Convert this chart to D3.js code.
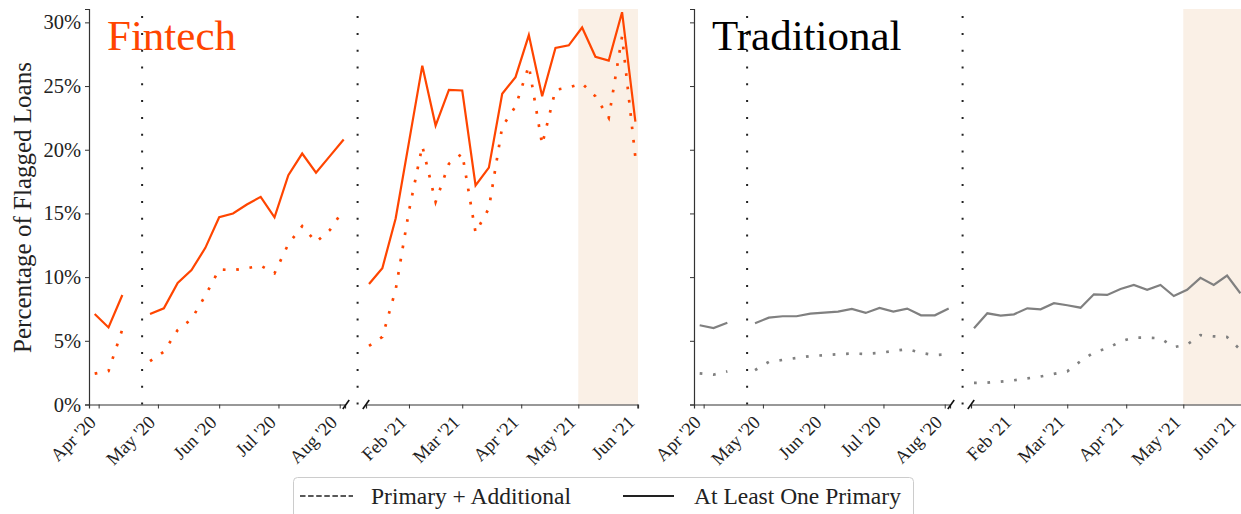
<!DOCTYPE html>
<html><head><meta charset="utf-8">
<script src="https://cdn.jsdelivr.net/npm/d3@7"></script>
<style>
html,body{margin:0;padding:0;background:#fff;}
svg{display:block;font-family:"Liberation Serif","DejaVu Serif",serif;}
</style></head><body>
<svg id="chart" width="1241" height="514"></svg>
<script>
// ---------- DATA ----------
const weeks2020 = ["2020-03-30","2020-04-06","2020-04-13","2020-04-20","2020-04-27","2020-05-04","2020-05-11","2020-05-18","2020-05-25","2020-06-01","2020-06-08","2020-06-15","2020-06-22","2020-06-29","2020-07-06","2020-07-13","2020-07-20","2020-07-27","2020-08-03"];
const weeks2021 = ["2021-01-11","2021-01-18","2021-01-25","2021-02-01","2021-02-08","2021-02-15","2021-02-22","2021-03-01","2021-03-08","2021-03-15","2021-03-22","2021-03-29","2021-04-05","2021-04-12","2021-04-19","2021-04-26","2021-05-03","2021-05-10","2021-05-17","2021-05-24","2021-05-31"];

const fintechPrimary2020 = [7.1, 6.05, 8.6, null, 7.1, 7.55, 9.55, 10.55, 12.3, 14.7, 15.0, 15.7, 16.3, 14.7, 18.0, 19.7, 18.2, 19.5, 20.8];
const fintechAdditional2020 = [2.42, 2.63, 5.9, null, 3.4, 4.15, 5.85, 6.7, 8.55, 10.6, 10.55, 10.7, 10.9, 10.3, 12.6, 14.0, 12.75, 13.7, 15.3];
const fintechPrimary2021 = [9.46, 10.7, 14.6, 20.6, 26.6, 21.9, 24.7, 24.65, 17.2, 18.6, 24.4, 25.7, 29.0, 24.2, 28.0, 28.2, 29.6, 27.3, 27.0, 30.8, 22.2];
const fintechAdditional2021 = [4.6, 5.3, 9.0, 15.2, 20.3, 15.9, 18.9, 19.7, 13.5, 15.4, 21.8, 23.4, 26.6, 20.4, 24.7, 24.9, 25.2, 24.2, 22.5, 28.9, 19.4];

const tradPrimary2020 = [6.22, 6.0, 6.42, null, 6.38, 6.82, 6.93, 6.93, 7.13, 7.21, 7.29, 7.5, 7.19, 7.58, 7.29, 7.53, 7.0, 7.0, 7.53];
const tradAdditional2020 = [2.45, 2.34, 2.6, null, 2.7, 3.35, 3.5, 3.65, 3.8, 3.87, 3.95, 4.0, 3.97, 4.05, 4.2, 4.35, 4.05, 3.88, 3.94];
const tradPrimary2021 = [5.98, 7.16, 6.98, 7.08, 7.55, 7.47, 7.95, 7.79, 7.6, 8.65, 8.6, 9.07, 9.39, 9.0, 9.39, 8.52, 9.0, 9.94, 9.39, 10.12, 8.73];
const tradAdditional2021 = [1.7, 1.72, 1.8, 1.9, 2.05, 2.2, 2.4, 2.6, 3.4, 4.1, 4.4, 4.95, 5.25, 5.25, 5.2, 4.5, 4.7, 5.45, 5.35, 5.3, 4.3];

const yTicks = [0, 5, 10, 15, 20, 25, 30];
const yTickLabels = ["0%", "5%", "10%", "15%", "20%", "25%", "30%"];
const xTicks2020 = ["2020-04-01","2020-05-01","2020-06-01","2020-07-01","2020-08-01"];
const xTickLabels2020 = ["Apr '20","May '20","Jun '20","Jul '20","Aug '20"];
const xTicks2021 = ["2021-02-01","2021-03-01","2021-04-01","2021-05-01","2021-06-01"];
const xTickLabels2021 = ["Feb '21","Mar '21","Apr '21","May '21","Jun '21"];
const markerDates2020 = ["2020-04-23"];
const markerDates2021 = ["2021-01-05"];
const shadeStart2021 = "2021-05-01";
const panelNames = ["Fintech", "Traditional"];
const seriesNames = ["Primary + Additional", "At Least One Primary"];
const yLabel = "Percentage of Flagged Loans";

// ---------- LAYOUT ----------
const W = 1241;
const parse = d3.timeParse("%Y-%m-%d");
const parseT = d3.timeParse("%Y-%m-%dT%H:%M");
const svg = d3.select("#chart");
const Y0 = 404.5, Y1 = 9;
const y = d3.scaleLinear().domain([0, 31.05]).range([Y0, Y1]);
const domA = [parseT("2020-03-27T03:00"), parseT("2020-08-03T16:00")];
const domB = [parseT("2021-01-09T10:00"), parseT("2021-06-01T09:00")];
const axisColor = "#333";
const textColor = "#222";

const panels = [
  {name: panelNames[0], x0: 89, color: "#FF4500", titleColor: "#FF4500", showLabels: true,
   s2020: [fintechAdditional2020, fintechPrimary2020], s2021: [fintechAdditional2021, fintechPrimary2021]},
  {name: panelNames[1], x0: 694, color: "#808080", titleColor: "#000", showLabels: false,
   s2020: [tradAdditional2020, tradPrimary2020], s2021: [tradAdditional2021, tradPrimary2021]}
];

panels.forEach(p => {
  const g = svg.append("g");
  const xA = d3.scaleTime().domain(domA).range([p.x0, p.x0 + 256]);
  const xB = d3.scaleTime().domain(domB).range([p.x0 + 277, p.x0 + 549]);

  // shaded region
  const s0 = xB(parse(shadeStart2021));
  g.append("rect").attr("x", s0).attr("y", Y1)
    .attr("width", xB.range()[1] - s0).attr("height", Y0 - Y1)
    .attr("fill", "#FAF0E6");

  // title
  g.append("text").attr("x", p.x0 + 18).attr("y", 50)
    .attr("font-size", 43).attr("fill", p.titleColor).text(p.name);

  // series lines
  const subs = [[xA, weeks2020, p.s2020], [xB, weeks2021, p.s2021]];
  subs.forEach(([x, weeks, series]) => {
    series.forEach((vals, si) => {
      const pts = weeks.map((w, i) => ({d: parse(w), v: vals[i]}));
      const line = d3.line().defined(d => d.v !== null).x(d => x(d.d)).y(d => y(d.v));
      const path = g.append("path").datum(pts).attr("d", line)
        .attr("fill", "none").attr("stroke", p.color);
      if (si === 0) {
        path.attr("stroke-width", 2.7).attr("stroke-dasharray", "2.7,10.7");
      } else {
        path.attr("stroke-width", 2.2).attr("stroke-linejoin", "miter");
      }
    });
  });

  // vertical dotted markers
  const vx = markerDates2020.map(d => xA(parse(d))).concat(markerDates2021.map(d => xB(parse(d))));
  vx.forEach(xx => {
    g.append("line").attr("x1", xx).attr("x2", xx).attr("y1", Y0).attr("y2", Y1 + 4)
      .attr("stroke", "#222").attr("stroke-width", 2).attr("stroke-dasharray", "2,14.8");
  });

  // x axes
  [[xA, xTicks2020, xTickLabels2020], [xB, xTicks2021, xTickLabels2021]].forEach(([x, tk, lb]) => {
    const ax = g.append("g").attr("transform", `translate(0,${Y0})`)
      .call(d3.axisBottom(x).tickValues(tk.map(parse)).tickFormat((d, i) => lb[i]).tickSizeOuter(0).tickSize(4));
    ax.select(".domain").attr("stroke", axisColor).attr("stroke-width", 1.2);
    ax.selectAll(".tick line").attr("stroke", axisColor).attr("stroke-width", 1);
    ax.selectAll(".tick text")
      .attr("font-family", '"Liberation Serif","DejaVu Serif",serif')
      .attr("font-size", 18.5).attr("fill", textColor)
      .attr("text-anchor", "end")
      .attr("dy", null).attr("y", null)
      .attr("transform", "translate(-2,19) rotate(-45)")
      .each(function() {
        const r = this.getBoundingClientRect();
        if (r.right > W - 1) {
          const dx = -2 - (r.right - (W - 1));
          d3.select(this).attr("transform", `translate(${dx},19) rotate(-45)`);
        }
      });
  });

  // break marks
  [xA.range()[1] + 1, xB.range()[0]].forEach(bx => {
    g.append("line").attr("x1", bx - 3.2).attr("y1", Y0 + 4.5).attr("x2", bx + 3.2).attr("y2", Y0 - 4.5)
      .attr("stroke", "#111").attr("stroke-width", 1.6);
  });

  // y axis
  const ay = g.append("g").attr("transform", `translate(${p.x0},0)`)
    .call(d3.axisLeft(y).tickValues(yTicks).tickFormat((d, i) => p.showLabels ? yTickLabels[i] : "").tickSizeOuter(0).tickSize(4).tickPadding(4));
  ay.select(".domain").attr("stroke", axisColor).attr("stroke-width", 1.2);
  ay.selectAll(".tick line").attr("stroke", axisColor);
  ay.selectAll(".tick text").attr("font-family", '"Liberation Serif","DejaVu Serif",serif')
    .attr("font-size", 20.5).attr("fill", textColor);
});

// y label
svg.append("text").attr("transform", "translate(31,207.5) rotate(-90)")
  .attr("text-anchor", "middle").attr("font-size", 25).attr("fill", textColor).text(yLabel);

// legend
const lg = svg.append("g");
lg.append("rect").attr("x", 293.5).attr("y", 477.5).attr("width", 620).attr("height", 50)
  .attr("rx", 4).attr("fill", "#fff").attr("stroke", "#ccc").attr("stroke-width", 1);
lg.append("line").attr("x1", 300).attr("x2", 353).attr("y1", 496).attr("y2", 496)
  .attr("stroke", "#222").attr("stroke-width", 1.6).attr("stroke-dasharray", "5.5,2.6");
lg.append("text").attr("x", 371).attr("y", 504).attr("font-size", 23.5).attr("fill", textColor).text(seriesNames[0]);
lg.append("line").attr("x1", 623).attr("x2", 674).attr("y1", 496).attr("y2", 496)
  .attr("stroke", "#222").attr("stroke-width", 2);
lg.append("text").attr("x", 694).attr("y", 504).attr("font-size", 23.5).attr("fill", textColor).text(seriesNames[1]);
</script>
</body></html>
